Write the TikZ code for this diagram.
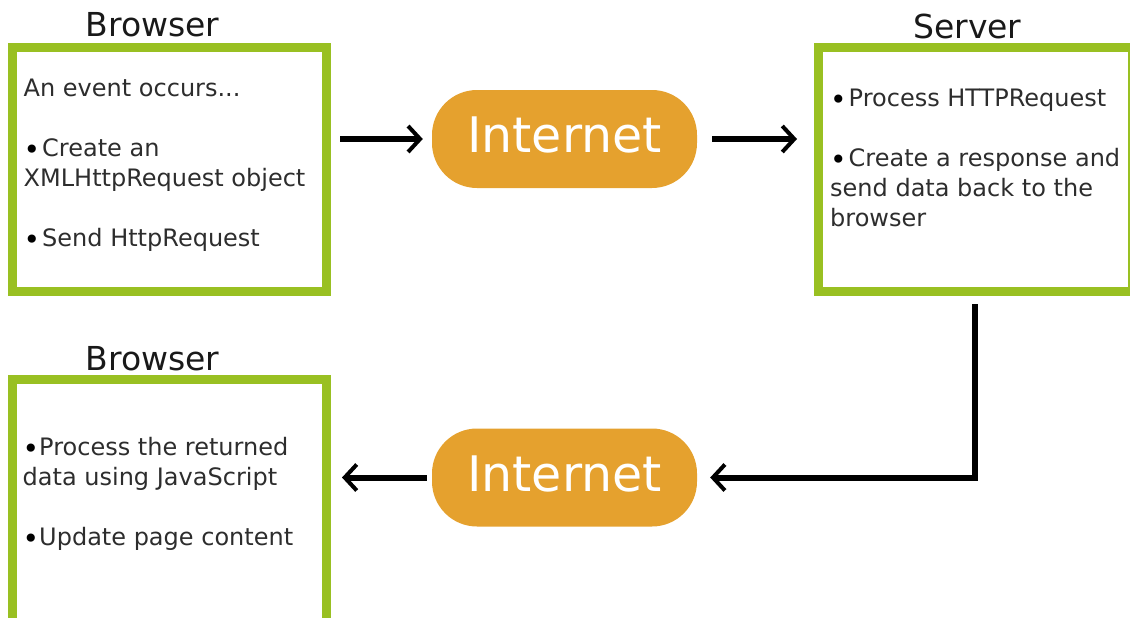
\documentclass[tikz,border=0pt]{standalone}
\usepackage{fontspec}
\setmainfont{DejaVu Sans}
\usetikzlibrary{arrows.meta,positioning}
\definecolor{boxgreen}{RGB}{153,192,34}
\definecolor{netorange}{RGB}{229,161,46}
\definecolor{textgray}{RGB}{45,45,45}
\newcommand{\firstline}{\vrule height 20pt depth 0pt width 0pt}
\newcommand{\blt}{\raisebox{-3pt}{\color{black}\fontsize{28}{30}\selectfont •}}

\begin{document}
\begin{tikzpicture}[x=1pt,y=-1pt,
		box/.style={draw=boxgreen,line width=9pt,minimum width=314.5pt,minimum height=243.5pt,inner sep=0pt},
		net/.style={fill=netorange,rounded corners=45pt,minimum width=265pt,minimum height=98pt,text depth=8pt,text=white,font=\fontsize{49}{56}\selectfont},
		heading/.style={inner sep=0pt,text=black!90,font=\fontsize{33}{40}\selectfont},
		body/.style={inner sep=0pt,align=left,text=textgray,font=\fontsize{24}{30}\selectfont},
		flow/.style={line width=6pt,-{Straight Barb[length=12pt,width=26pt,line width=4pt]}}]
		
		\clip (0,0) rectangle (1130,618);
		
		\node[box] (br1) at (169.25,169.25) {};
		\node[box] (srv) at (975.25,169.25) {};
		\node[box] (br2) at (169.25,500.75) {};
		\node[net] (net1) at (564.5,139) {Internet};
		\node[net] (net2) at (564.5,477.5) {Internet};
		
		\node[heading,above right=6pt and 78pt of br1.north west] (br1title) {Browser};
		\node[heading,above right=3.5pt and 99.5pt of srv.north west] (srvtitle) {Server};
		\node[heading,above right=3pt and 78pt of br2.north west] (br2title) {Browser};
		
		\node[body,below right=33pt and 16pt of br1.north west] (br1text)
		{\firstline An event occurs...\\[30pt]
			\blt\hspace{2pt}Create an\\XMLHttpRequest object\\[30pt]
			\blt\hspace{2pt}Send HttpRequest};
		\node[body,below right=43.5pt and 16.5pt of srv.north west] (srvtext)
		{\firstline \blt\hspace{2pt}Process HTTPRequest\\[30pt]
			\blt\hspace{2pt}Create a response and\\send data back to the\\browser};
		\node[body,below right=60.5pt and 15pt of br2.north west] (br2text)
		{\firstline \blt Process the returned\\data using JavaScript\\[30pt]
			\blt Update page content};
		
		\draw[flow,shorten <=9pt,shorten >=9pt] (br1.east |- net1.west) -- (net1.west);
		\draw[flow,shorten <=15pt,shorten >=16.5pt] (net1.east) -- (net1.east -| srv.west);
		\draw[flow,shorten <=8.5pt,shorten >=13pt] (srv.south) |- (net2.east);
		\draw[flow,shorten <=5pt,shorten >=11pt] (net2.west) -- (net2.west -| br2.east);
\end{tikzpicture}
\end{document}
